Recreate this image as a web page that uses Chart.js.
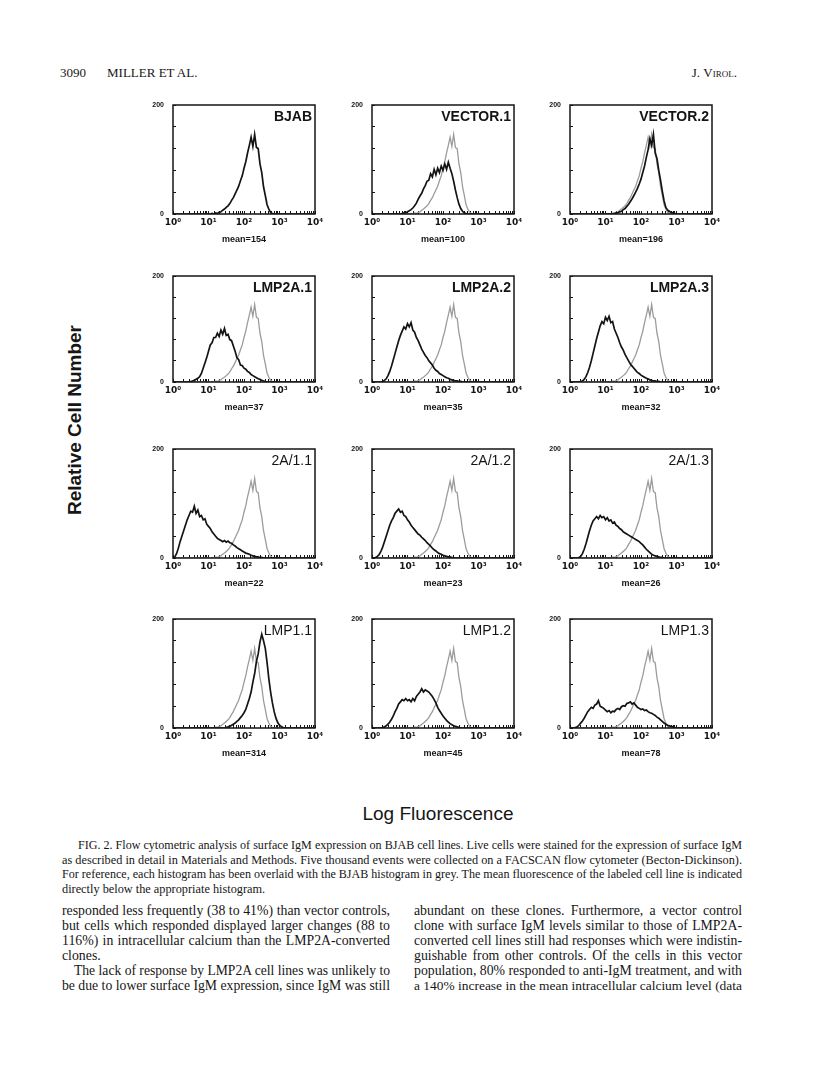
<!DOCTYPE html>
<html lang="en">
<head>
<meta charset="UTF-8">
<title>Fig. 2 - Surface IgM on BJAB cell lines</title>
<script src="https://cdn.jsdelivr.net/npm/chart.js"></script>
<style>
  body { margin: 0; background: #fff; }
  .page { position: relative; width: 816px; height: 1073px; overflow: hidden; font-family: "Liberation Serif", "Times New Roman", serif; color: #161616; }
  .page canvas { position: absolute; }
  .head { position: absolute; top: 65px; font-size: 13px; line-height: 16px; }
  .ylab { position: absolute; left: -34px; top: 408px; width: 220px; height: 24px; line-height: 24px; text-align: center; transform: rotate(-90deg); font: bold 19px "Liberation Sans", Arial, sans-serif; }
  .xlab { position: absolute; left: 288px; top: 803px; width: 300px; line-height: 24px; text-align: center; font: 19px "Liberation Sans", Arial, sans-serif; }
  .block { position: absolute; }
  .jl { white-space: nowrap; overflow: visible; }
  .caption { left: 62px; top: 838px; width: 680px; font-size: 12.3px; line-height: 14.5px; }
  .body { top: 903px; width: 328px; font-size: 13.8px; line-height: 15px; }
</style>
</head>
<body>
<div class="page" id="page">
  <div class="head" style="left:60px">3090</div>
  <div class="head" style="left:107px">MILLER ET AL.</div>
  <div class="head" style="right:79px">J. <span style="font-variant:small-caps">Virol.</span></div>

  <div class="ylab">Relative Cell Number</div>
  <div class="xlab">Log Fluorescence</div>

  <div class="block caption">
    <div class="jl"><span style="margin-left:16px">FIG. 2. Flow cytometric analysis of surface IgM expression on BJAB cell lines. Live cells were stained for the expression of surface IgM</span></div>
    <div class="jl"><span>as described in detail in Materials and Methods. Five thousand events were collected on a FACSCAN flow cytometer (Becton-Dickinson).</span></div>
    <div class="jl"><span>For reference, each histogram has been overlaid with the BJAB histogram in grey. The mean fluorescence of the labeled cell line is indicated</span></div>
    <div class="jl last"><span>directly below the appropriate histogram.</span></div>
  </div>

  <div class="block body" style="left:62px">
    <div class="jl"><span>responded less frequently (38 to 41%) than vector controls,</span></div>
    <div class="jl"><span>but cells which responded displayed larger changes (88 to</span></div>
    <div class="jl"><span>116%) in intracellular calcium than the LMP2A-converted</span></div>
    <div class="jl last"><span>clones.</span></div>
    <div class="jl"><span style="margin-left:12px">The lack of response by LMP2A cell lines was unlikely to</span></div>
    <div class="jl"><span>be due to lower surface IgM expression, since IgM was still</span></div>
  </div>

  <div class="block body" style="left:414px">
    <div class="jl"><span>abundant on these clones. Furthermore, a vector control</span></div>
    <div class="jl"><span>clone with surface IgM levels similar to those of LMP2A-</span></div>
    <div class="jl"><span>converted cell lines still had responses which were indistin-</span></div>
    <div class="jl"><span>guishable from other controls. Of the cells in this vector</span></div>
    <div class="jl"><span>population, 80% responded to anti-IgM treatment, and with</span></div>
    <div class="jl"><span>a 140% increase in the mean intracellular calcium level (data</span></div>
  </div>
</div>

<script>
// channel positions in decades (10^0 .. 10^4)
const logChannel = [
  0.00, 0.05, 0.10, 0.15, 0.20, 0.25, 0.30, 0.35, 0.40, 0.45,
  0.50, 0.55, 0.60, 0.65, 0.70, 0.75, 0.80, 0.85, 0.90, 0.95,
  1.00, 1.05, 1.10, 1.15, 1.20, 1.25, 1.30, 1.35, 1.40, 1.45,
  1.50, 1.55, 1.60, 1.65, 1.70, 1.75, 1.80, 1.85, 1.90, 1.95,
  2.00, 2.05, 2.10, 2.15, 2.20, 2.25, 2.30, 2.35, 2.40, 2.45,
  2.50, 2.55, 2.60, 2.65, 2.70, 2.75, 2.80, 2.85, 2.90, 2.95,
  3.00, 3.05, 3.10, 3.15, 3.20, 3.25, 3.30, 3.35, 3.40, 3.45,
  3.50, 3.55, 3.60, 3.65, 3.70, 3.75, 3.80, 3.85, 3.90, 3.95,
  4.00
];

// cell counts per channel
const bjab = [
  0, 0, 0, 0, 0, 0, 0, 0, 0, 0,
  0, 0, 0, 0, 0, 0, 0, 0, 0, 0,
  0, 0, 1, 0, 2, 1, 3, 4, 7, 9,
  12, 15, 19, 25, 30, 37, 44, 51, 61, 70,
  84, 96, 112, 126, 141, 124, 146, 122, 120, 92,
  76, 50, 34, 17, 9, 3, 1, 0, 0, 0,
  0, 0, 0, 0, 0, 0, 0, 0, 0, 0,
  0, 0, 0, 0, 0, 0, 0, 0, 0, 0,
  0
];
const vector1 = [
  0, 0, 0, 0, 0, 0, 0, 0, 0, 0,
  0, 0, 0, 0, 0, 0, 0, 1, 2, 2,
  4, 6, 8, 11, 15, 20, 27, 33, 38, 46,
  52, 60, 62, 74, 68, 82, 72, 84, 76, 88,
  80, 92, 82, 95, 84, 74, 60, 44, 30, 18,
  10, 5, 2, 1, 0, 0, 0, 0, 0, 0,
  0, 0, 0, 0, 0, 0, 0, 0, 0, 0,
  0, 0, 0, 0, 0, 0, 0, 0, 0, 0,
  0
];
const vector2 = [
  0, 0, 0, 0, 0, 0, 0, 0, 0, 0,
  0, 0, 0, 0, 0, 0, 0, 0, 0, 0,
  0, 0, 0, 0, 0, 1, 2, 2, 4, 5,
  8, 10, 14, 18, 23, 28, 34, 40, 47, 55,
  64, 76, 88, 104, 118, 138, 126, 146, 112, 102,
  80, 62, 42, 24, 12, 7, 5, 3, 2, 1,
  0, 0, 0, 0, 0, 0, 0, 0, 0, 0,
  0, 0, 0, 0, 0, 0, 0, 0, 0, 0,
  0
];
const lmp2a1 = [
  0, 0, 0, 0, 0, 0, 0, 0, 0, 0,
  1, 2, 3, 5, 7, 10, 16, 26, 36, 46,
  58, 70, 74, 84, 84, 92, 86, 98, 90, 101,
  88, 90, 80, 78, 68, 58, 46, 42, 32, 31,
  26, 24, 20, 18, 14, 12, 10, 8, 6, 5,
  3, 2, 1, 0, 0, 0, 0, 0, 0, 0,
  0, 0, 0, 0, 0, 0, 0, 0, 0, 0,
  0, 0, 0, 0, 0, 0, 0, 0, 0, 0,
  0
];
const lmp2a2 = [
  0, 0, 0, 0, 0, 0, 1, 3, 6, 12,
  20, 30, 42, 54, 66, 78, 88, 96, 104, 100,
  110, 104, 112, 98, 94, 84, 78, 70, 62, 56,
  50, 46, 40, 36, 32, 26, 22, 20, 16, 14,
  12, 10, 8, 7, 5, 4, 3, 2, 2, 1,
  1, 0, 0, 0, 0, 0, 0, 0, 0, 0,
  0, 0, 0, 0, 0, 0, 0, 0, 0, 0,
  0, 0, 0, 0, 0, 0, 0, 0, 0, 0,
  0
];
const lmp2a3 = [
  0, 0, 0, 0, 0, 0, 1, 2, 5, 10,
  18, 28, 40, 54, 68, 82, 94, 106, 114, 110,
  122, 116, 124, 112, 114, 100, 92, 84, 74, 66,
  60, 52, 46, 40, 34, 30, 26, 22, 18, 16,
  13, 11, 9, 7, 6, 4, 3, 2, 2, 1,
  1, 0, 0, 0, 0, 0, 0, 0, 0, 0,
  0, 0, 0, 0, 0, 0, 0, 0, 0, 0,
  0, 0, 0, 0, 0, 0, 0, 0, 0, 0,
  0
];
const clone2a11 = [
  0, 2, 8, 18, 30, 40, 50, 60, 70, 78,
  86, 84, 95, 82, 88, 76, 78, 70, 72, 62,
  58, 54, 48, 44, 40, 36, 34, 32, 30, 32,
  29, 31, 28, 27, 24, 22, 19, 17, 15, 13,
  11, 9, 8, 7, 5, 4, 3, 2, 2, 1,
  1, 0, 0, 0, 0, 0, 0, 0, 0, 0,
  0, 0, 0, 0, 0, 0, 0, 0, 0, 0,
  0, 0, 0, 0, 0, 0, 0, 0, 0, 0,
  0
];
const clone2a12 = [
  0, 0, 1, 3, 6, 12, 20, 30, 40, 50,
  60, 68, 74, 82, 86, 90, 84, 86, 78, 76,
  70, 66, 60, 56, 52, 48, 44, 42, 38, 35,
  32, 28, 25, 22, 18, 15, 13, 10, 8, 7,
  5, 4, 3, 2, 2, 1, 0, 0, 0, 0,
  0, 0, 0, 0, 0, 0, 0, 0, 0, 0,
  0, 0, 0, 0, 0, 0, 0, 0, 0, 0,
  0, 0, 0, 0, 0, 0, 0, 0, 0, 0,
  0
];
const clone2a13 = [
  0, 0, 0, 0, 0, 1, 3, 8, 16, 26,
  38, 50, 60, 68, 72, 76, 72, 78, 74, 76,
  70, 74, 68, 70, 64, 66, 60, 58, 54, 52,
  48, 46, 44, 42, 40, 38, 36, 34, 32, 30,
  27, 24, 20, 16, 13, 10, 7, 5, 4, 3,
  2, 1, 1, 0, 0, 0, 0, 0, 0, 0,
  0, 0, 0, 0, 0, 0, 0, 0, 0, 0,
  0, 0, 0, 0, 0, 0, 0, 0, 0, 0,
  0
];
const lmp11 = [
  0, 0, 0, 0, 0, 0, 0, 0, 0, 0,
  0, 0, 0, 0, 0, 0, 0, 0, 0, 0,
  0, 0, 0, 0, 0, 0, 0, 0, 0, 0,
  1, 2, 3, 5, 7, 9, 12, 15, 19, 23,
  28, 34, 44, 54, 66, 84, 100, 122, 136, 158,
  172, 160, 146, 120, 90, 66, 46, 30, 18, 10,
  5, 3, 1, 0, 0, 0, 0, 0, 0, 0,
  0, 0, 0, 0, 0, 0, 0, 0, 0, 0,
  0
];
const lmp12 = [
  0, 0, 0, 0, 0, 0, 1, 2, 4, 7,
  11, 16, 22, 30, 36, 44, 48, 52, 50, 54,
  50, 52, 48, 54, 50, 58, 62, 66, 72, 66,
  70, 68, 66, 62, 58, 52, 46, 38, 32, 27,
  22, 18, 14, 11, 8, 6, 4, 3, 2, 1,
  0, 0, 0, 0, 0, 0, 0, 0, 0, 0,
  0, 0, 0, 0, 0, 0, 0, 0, 0, 0,
  0, 0, 0, 0, 0, 0, 0, 0, 0, 0,
  0
];
const lmp13 = [
  0, 0, 0, 1, 2, 5, 9, 13, 18, 24,
  30, 34, 38, 36, 42, 44, 50, 40, 38, 36,
  33, 30, 32, 28, 31, 30, 34, 36, 34, 39,
  41, 40, 45, 46, 48, 44, 46, 42, 38, 36,
  34, 35, 32, 33, 30, 28, 27, 25, 23, 20,
  18, 15, 12, 9, 7, 5, 4, 3, 2, 1,
  0, 0, 0, 0, 0, 0, 0, 0, 0, 0,
  0, 0, 0, 0, 0, 0, 0, 0, 0, 0,
  0
];

const panelNames = ['BJAB', 'VECTOR.1', 'VECTOR.2', 'LMP2A.1', 'LMP2A.2', 'LMP2A.3',
                    '2A/1.1', '2A/1.2', '2A/1.3', 'LMP1.1', 'LMP1.2', 'LMP1.3'];
const panelMeans = [154, 100, 196, 37, 35, 32, 22, 23, 26, 314, 45, 78];
const panelCurves = [bjab, vector1, vector2, lmp2a1, lmp2a2, lmp2a3,
                     clone2a11, clone2a12, clone2a13, lmp11, lmp12, lmp13];
const yTickLabels = [0, 200];
const xDecadeLabels = ['10\u2070', '10\u00B9', '10\u00B2', '10\u00B3', '10\u2074'];

// page layout of the 4 x 3 grid (plot frames)
const colLeft = [173, 372, 570];
const rowTop = [105, 276, 449, 619];
const rowHeight = [109, 106, 109, 109];
const boxWidth = 142;
// padT/padR leave room for chart.js' own tick-label padding so the frame keeps its size
const padL = 35, padT = 18, padR = 16, xAxisH = 31;

const sans = '"Liberation Sans", Arial, sans-serif';
const ink = '#141414';

const framePlugin = {
    id: 'frame',
    afterDraw(chart, args, opts) {
        const { ctx, chartArea: a } = chart;
        ctx.save();
        ctx.strokeStyle = ink;
        ctx.lineWidth = 1.5;
        ctx.strokeRect(a.left, a.top, a.right - a.left, a.bottom - a.top);
        ctx.fillStyle = ink;
        ctx.font = opts.font;
        ctx.textAlign = 'right';
        ctx.textBaseline = 'top';
        ctx.fillText(opts.text, a.right - 3, a.top + 5);
        ctx.restore();
    }
};

function toPoints(counts) {
    return logChannel.map((v, i) => ({ x: Math.pow(10, v), y: counts[i] }));
}

function decadeLabel(value) {
    const e = Math.log10(value);
    const r = Math.round(e);
    return Math.abs(e - r) < 1e-6 ? xDecadeLabels[r] : '';
}

function drawPanel(i) {
    const col = i % 3, row = Math.floor(i / 3);
    const canvas = document.createElement('canvas');
    canvas.width = padL + boxWidth + padR;
    canvas.height = padT + rowHeight[row] + xAxisH;
    canvas.style.left = (colLeft[col] - padL) + 'px';
    canvas.style.top = (rowTop[row] - padT) + 'px';
    document.getElementById('page').appendChild(canvas);

    const datasets = [{
        data: toPoints(panelCurves[i]),
        borderColor: ink,
        borderWidth: 1.7
    }];
    if (i > 0) {
        datasets.push({
            data: toPoints(bjab),
            borderColor: '#9c9c9c',
            borderWidth: 1.3
        });
    }

    new Chart(canvas.getContext('2d'), {
        type: 'line',
        data: { datasets },
        options: {
            responsive: false,
            animation: false,
            devicePixelRatio: 1,
            layout: { padding: { left: 0, top: padT, right: padR, bottom: 0 } },
            elements: { point: { radius: 0 }, line: { tension: 0 } },
            plugins: {
                legend: { display: false },
                tooltip: { enabled: false },
                frame: {
                    text: panelNames[i],
                    font: (row < 2 ? 'bold ' : '') + '14px ' + sans
                }
            },
            scales: {
                x: {
                    type: 'logarithmic',
                    min: 1,
                    max: 10000,
                    afterFit: s => { s.height = xAxisH; },
                    border: { display: false },
                    grid: { drawOnChartArea: false, drawTicks: true, tickLength: -3, color: ink, lineWidth: 1 },
                    ticks: {
                        autoSkip: false,
                        maxRotation: 0,
                        minRotation: 0,
                        padding: 6,
                        color: ink,
                        font: { family: '"DejaVu Sans", sans-serif', size: 9, weight: 'bold' },
                        callback: decadeLabel
                    },
                    title: {
                        display: true,
                        text: 'mean=' + panelMeans[i],
                        padding: 0,
                        color: ink,
                        font: { family: sans, size: 9, weight: 'bold' }
                    }
                },
                y: {
                    min: 0,
                    max: 200,
                    afterFit: s => { s.width = padL; },
                    border: { display: false },
                    grid: { drawOnChartArea: false, drawTicks: true, tickLength: -3, color: ink, lineWidth: 1 },
                    ticks: {
                        stepSize: 40,
                        autoSkip: false,
                        padding: 12,
                        color: ink,
                        font: { family: sans, size: 7, weight: 'bold' },
                        callback: v => yTickLabels.includes(v) ? String(v) : ''
                    }
                }
            }
        },
        plugins: [framePlugin]
    });
}

for (let i = 0; i < panelNames.length; i++) drawPanel(i);

// justify the text lines of the caption and body columns
document.querySelectorAll('.jl').forEach(line => {
    const span = line.firstElementChild;
    const target = line.getBoundingClientRect().right - span.getBoundingClientRect().left;
    let natural = span.getBoundingClientRect().width;
    if (natural > target) {
        const fs = parseFloat(getComputedStyle(span).fontSize);
        span.style.fontSize = (fs * target / natural) + 'px';
        natural = span.getBoundingClientRect().width;
    }
    if (line.classList.contains('last')) return;
    const gaps = (span.textContent.match(/ /g) || []).length;
    if (gaps > 0) span.style.wordSpacing = ((target - natural) / gaps) + 'px';
});
</script>
</body>
</html>
